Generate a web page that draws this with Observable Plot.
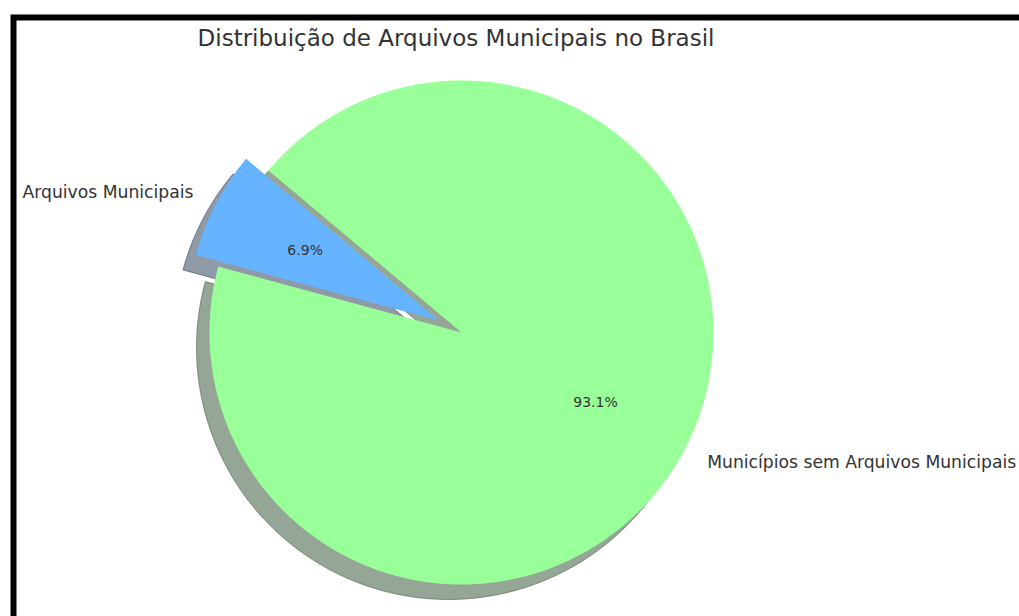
<!DOCTYPE html>
<html><head><meta charset="utf-8">
<script src="https://cdn.jsdelivr.net/npm/d3@7"></script>
<script src="https://cdn.jsdelivr.net/npm/@observablehq/plot@0.6"></script>
<style>
html,body{margin:0;padding:0;background:#fff;overflow:hidden;}
#chart svg{display:block;overflow:hidden;font-family:"DejaVu Sans",sans-serif;}
</style>
</head><body><div id="chart"></div>
<script>
// ---- data ----
const title = "Distribuição de Arquivos Municipais no Brasil";
const labels = ["Arquivos Municipais", "Municípios sem Arquivos Municipais"];
const values = [6.9, 93.1];
const colors = ["#66b3ff", "#99ff99"];
const explode = [0.1, 0];
const startAngle = 140;

// ---- layout ----
const W = 1019, H = 616;
const R = 252, CX = 461, CY = 332;
const shadowOffset = [-13 / R, -15 / R];
const labelDistance = 1.1, pctDistance = 0.6;
const textColor = "#333333";

const total = d3.sum(values);
const rad = Math.PI / 180;
let acc = startAngle;
const slices = values.map((v, i) => {
  const a0 = acc, a1 = acc + 360 * v / total; acc = a1;
  const mid = (a0 + a1) / 2 * rad;
  const cx = explode[i] * Math.cos(mid), cy = explode[i] * Math.sin(mid);
  return {i, label: labels[i], value: v, color: colors[i], a0, a1, mid, cx, cy,
          pct: (100 * v / total).toFixed(1) + "%"};
});

function shade(hex) {
  const c = d3.rgb(hex);
  return d3.rgb(c.r * 0.3, c.g * 0.3, c.b * 0.3).formatHex();
}
function wedge(s, ox, oy, key, color) {
  const x0 = s.cx + ox, y0 = s.cy + oy;
  const pts = [{x: x0, y: y0, key, color}];
  const n = Math.max(4, Math.ceil((s.a1 - s.a0) / 0.5));
  for (let k = 0; k <= n; k++) {
    const t = (s.a0 + (s.a1 - s.a0) * k / n) * rad;
    pts.push({x: x0 + Math.cos(t), y: y0 + Math.sin(t), key, color});
  }
  pts.push({x: x0, y: y0, key, color});
  return pts;
}

const shadowPts = slices.flatMap(s => wedge(s, shadowOffset[0], shadowOffset[1], "s" + s.i, shade(s.color)));
const wedgePts = slices.flatMap(s => wedge(s, 0, 0, "w" + s.i, s.color));

const labelPts = slices.map(s => ({
  x: s.cx + labelDistance * Math.cos(s.mid),
  y: s.cy + labelDistance * Math.sin(s.mid),
  text: s.label, side: Math.cos(s.mid) >= 0 ? "start" : "end"
}));
const pctPts = slices.map(s => ({
  x: s.cx + pctDistance * Math.cos(s.mid),
  y: s.cy + pctDistance * Math.sin(s.mid),
  text: s.pct
}));

const chart = Plot.plot({
  width: W, height: H,
  margin: 0,
  style: {background: "#ffffff", fontFamily: "DejaVu Sans, sans-serif", overflow: "hidden"},
  x: {domain: [-CX / R, (W - CX) / R], range: [0, W], axis: null},
  y: {domain: [-(H - CY) / R, CY / R], range: [H, 0], axis: null},
  marks: [
    Plot.line(shadowPts, {x: "x", y: "y", z: "key", fill: "color", fillOpacity: 0.5,
      stroke: "color", strokeOpacity: 0.5, strokeWidth: 1, curve: "linear-closed"}),
    Plot.line(wedgePts, {x: "x", y: "y", z: "key", fill: "color", stroke: "none", curve: "linear-closed"}),
    Plot.text(labelPts.filter(d => d.side === "end"), {x: "x", y: "y", text: "text",
      textAnchor: "end", fontSize: 17.2, fill: textColor}),
    Plot.text(labelPts.filter(d => d.side === "start"), {x: "x", y: "y", text: "text",
      textAnchor: "start", fontSize: 17.2, dy: 1.5, fill: textColor}),
    Plot.text(pctPts, {x: "x", y: "y", text: "text", fontSize: 14, fill: textColor}),
    Plot.text([title], {frameAnchor: "top", lineAnchor: "top", dx: -54, dy: 29, fontSize: 23, fill: textColor}),
    Plot.frame({stroke: "black", strokeWidth: 6, insetLeft: 13, insetTop: 17, insetRight: -20, insetBottom: -20})
  ]
});
document.getElementById("chart").appendChild(chart);
</script>
</body></html>
